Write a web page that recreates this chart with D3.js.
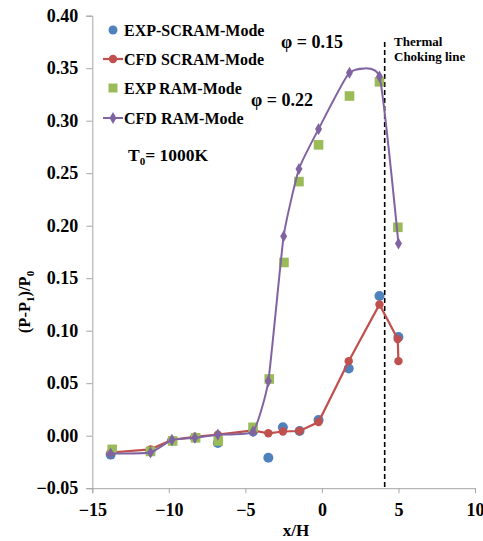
<!DOCTYPE html>
<html>
<head>
<meta charset="utf-8">
<script src="https://cdn.jsdelivr.net/npm/d3@7"></script>
<style>
  html, body { margin: 0; padding: 0; background: #fff; }
  svg { display: block; }
  text { font-family: "Liberation Serif", "Times New Roman", serif; font-weight: bold; }
</style>
</head>
<body>
<svg id="chart" width="483" height="541"></svg>
<script>
// ---- data ----
const xTicks = [-15, -10, -5, 0, 5, 10];
const yTicks = [-0.05, 0.00, 0.05, 0.10, 0.15, 0.20, 0.25, 0.30, 0.35, 0.40];

const expScramX = [-13.8, -11.2, -9.8, -8.3, -6.8, -4.5, -3.5, -2.55, -1.46, -0.22, 1.75, 3.76, 5.0];
const expScramY = [-0.018, -0.015, -0.005, -0.002, -0.007, 0.004, -0.021, 0.008, 0.0045, 0.015, 0.064, 0.133, 0.094];

const cfdScramX = [-13.8, -11.2, -9.8, -8.3, -6.8, -4.5, -3.5, -2.55, -1.46, -0.22, 1.75, 3.76, 4.95, 5.0];
const cfdScramY = [-0.016, -0.013, -0.004, -0.001, 0.001, 0.005, 0.0023, 0.004, 0.0045, 0.013, 0.071, 0.125, 0.092, 0.071];

const expRamX = [-13.7, -11.2, -9.75, -8.25, -6.77, -4.5, -3.44, -2.48, -1.5, -0.22, 1.8, 3.76, 4.96];
const expRamY = [-0.013, -0.015, -0.005, -0.002, -0.005, 0.008, 0.054, 0.165, 0.242, 0.277, 0.3235, 0.337, 0.1985];

const cfdRamX = [-13.8, -11.2, -9.8, -8.3, -6.8, -4.5, -3.5, -2.5, -1.5, -0.22, 1.8, 3.76, 5.0];
const cfdRamY = [-0.017, -0.016, -0.004, -0.002, 0.001, 0.004, 0.052, 0.19, 0.254, 0.292, 0.3457, 0.342, 0.183];

const chokingX = 4.1;
const chokingTop = 0.375;

const seriesNames = ["EXP-SCRAM-Mode", "CFD SCRAM-Mode", "EXP RAM-Mode", "CFD RAM-Mode"];
const colors = { blue: "#4F81BD", red: "#C0504D", green: "#9BBB59", purple: "#8064A2" };

// ---- layout ----
const svg = d3.select("#chart");
const x = d3.scaleLinear().domain([-15, 10]).range([92.3, 475]);
const y = d3.scaleLinear().domain([-0.05, 0.40]).range([488.2, 15.7]);
const axisColor = "#A6A6A6";

// axes
const gx = svg.append("g").attr("transform", `translate(0,${y(-0.05)})`)
  .call(d3.axisBottom(x).tickValues(xTicks).tickSize(5).tickPadding(10).tickFormat(d3.format("d")));
gx.select(".domain").attr("stroke", axisColor);
gx.selectAll(".tick line").attr("stroke", axisColor);
gx.selectAll(".tick text").attr("font-size", 18).attr("fill", "#000")
  .attr("font-family", "Liberation Serif").attr("font-weight", "bold");

const gy = svg.append("g").attr("transform", `translate(${x(-15)},0)`)
  .call(d3.axisLeft(y).tickValues(yTicks).tickSize(6).tickPadding(8).tickFormat(d3.format(".2f")));
gy.select(".domain").attr("stroke", axisColor);
gy.selectAll(".tick line").attr("stroke", axisColor);
gy.selectAll(".tick text").attr("font-size", 18).attr("fill", "#000")
  .attr("font-family", "Liberation Serif").attr("font-weight", "bold");

// axis titles
svg.append("text").attr("x", 296).attr("y", 536).attr("text-anchor", "middle")
  .attr("font-size", 17).text("x/H");

const yt = svg.append("text").attr("transform", "translate(30,302) rotate(-90)")
  .attr("text-anchor", "middle").attr("font-size", 16.5);
yt.append("tspan").text("(P-P");
yt.append("tspan").attr("font-size", 11).attr("dy", 4).text("1");
yt.append("tspan").attr("dy", -4).text(")/P");
yt.append("tspan").attr("font-size", 11).attr("dy", 4).text("0");

// choking line
svg.append("line")
  .attr("x1", x(chokingX)).attr("x2", x(chokingX))
  .attr("y1", y(chokingTop)).attr("y2", y(-0.05))
  .attr("stroke", "#000").attr("stroke-width", 1.6).attr("stroke-dasharray", "5,3");

const zip = (xs, ys) => xs.map((v, i) => [v, ys[i]]);
const dExpScram = zip(expScramX, expScramY);
const dCfdScram = zip(cfdScramX, cfdScramY);
const dExpRam = zip(expRamX, expRamY);
const dCfdRam = zip(cfdRamX, cfdRamY);

// EXP SCRAM markers
svg.append("g").selectAll("circle").data(dExpScram).join("circle")
  .attr("cx", d => x(d[0])).attr("cy", d => y(d[1])).attr("r", 5)
  .attr("fill", colors.blue);

// CFD SCRAM line + markers
svg.append("path").datum(dCfdScram)
  .attr("d", d3.line().x(d => x(d[0])).y(d => y(d[1])))
  .attr("fill", "none").attr("stroke", colors.red).attr("stroke-width", 2.2);
svg.append("g").selectAll("circle").data(dCfdScram).join("circle")
  .attr("cx", d => x(d[0])).attr("cy", d => y(d[1])).attr("r", 4.2)
  .attr("fill", colors.red);

// EXP RAM markers
svg.append("g").selectAll("rect").data(dExpRam).join("rect")
  .attr("x", d => x(d[0]) - 4.8).attr("y", d => y(d[1]) - 4.8)
  .attr("width", 9.6).attr("height", 9.6).attr("fill", colors.green);

// CFD RAM smooth line + diamonds
svg.append("path").datum(dCfdRam)
  .attr("d", d3.line().x(d => x(d[0])).y(d => y(d[1])).curve(d3.curveCardinal.tension(0.55)))
  .attr("fill", "none").attr("stroke", colors.purple).attr("stroke-width", 2);
const diamond = d3.symbol().type(d3.symbolDiamond).size(42);
svg.append("g").selectAll("path").data(dCfdRam).join("path")
  .attr("transform", d => `translate(${x(d[0])},${y(d[1])})`)
  .attr("d", diamond).attr("fill", colors.purple);

// legend
const lg = svg.append("g");
const lx = 113, ly = [30, 59, 88, 118];
lg.append("circle").attr("cx", lx).attr("cy", ly[0]).attr("r", 4.5).attr("fill", colors.blue);
lg.append("line").attr("x1", lx - 10).attr("x2", lx + 10).attr("y1", ly[1]).attr("y2", ly[1])
  .attr("stroke", colors.red).attr("stroke-width", 2.2);
lg.append("circle").attr("cx", lx).attr("cy", ly[1]).attr("r", 4.2).attr("fill", colors.red);
lg.append("rect").attr("x", lx - 4.5).attr("y", ly[2] - 4.5).attr("width", 9).attr("height", 9).attr("fill", colors.green);
lg.append("line").attr("x1", lx - 10).attr("x2", lx + 10).attr("y1", ly[3]).attr("y2", ly[3])
  .attr("stroke", colors.purple).attr("stroke-width", 2);
lg.append("path").attr("transform", `translate(${lx},${ly[3]})`).attr("d", diamond).attr("fill", colors.purple);
seriesNames.forEach((n, i) => {
  lg.append("text").attr("x", 124).attr("y", ly[i] + 5.5).attr("font-size", 16).text(n);
});

// annotations
const t0 = svg.append("text").attr("x", 128).attr("y", 161).attr("font-size", 17.5);
t0.append("tspan").text("T");
t0.append("tspan").attr("font-size", 11).attr("dy", 4).text("0");
t0.append("tspan").attr("dy", -4).text("= 1000K");

svg.append("text").attr("x", 281).attr("y", 48).attr("font-size", 18).text("φ = 0.15");
svg.append("text").attr("x", 251).attr("y", 106).attr("font-size", 18).text("φ = 0.22");
svg.append("text").attr("x", 394).attr("y", 46).attr("font-size", 13).text("Thermal");
svg.append("text").attr("x", 394).attr("y", 61).attr("font-size", 13).text("Choking line");
</script>
</body>
</html>
